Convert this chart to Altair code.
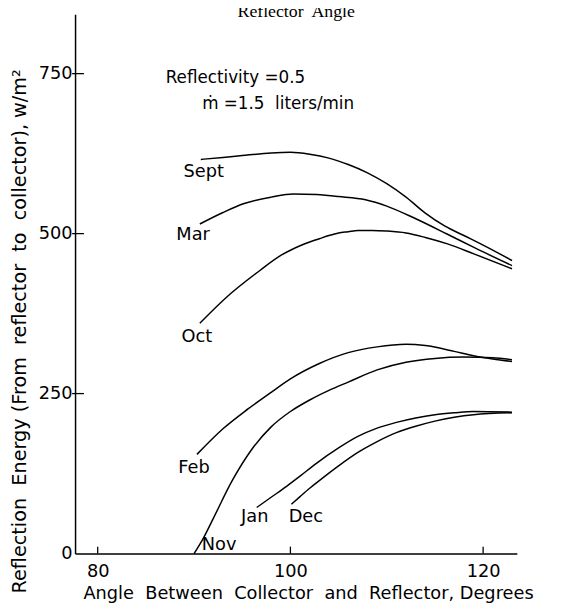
import altair as alt
import pandas as pd

# ---------------- data ----------------
months = ["Sept", "Mar", "Oct", "Feb", "Nov", "Jan", "Dec"]

sept_x = [90.7, 93, 95, 98, 100, 102, 104, 106, 108, 110, 112, 114, 116, 118, 120, 123.0]
sept_y = [616, 619, 622, 626, 627, 624, 618, 608, 595, 578, 557, 532, 512, 497, 482, 458]

mar_x = [90.6, 93, 95.2, 98, 100.3, 102.7, 105, 107.8, 110, 112.9, 116.3, 119.1, 123.0]
mar_y = [515, 533, 547, 557, 562, 561, 558, 553, 543, 524, 499, 478, 450]

oct_x = [90.6, 93.4, 96.8, 99, 100, 101, 102, 103, 104, 105, 106, 107, 108.5, 110, 112, 114, 116.3, 119.1, 123.0]
oct_y = [360, 401, 442, 466, 474, 481, 487, 492, 497, 501, 503, 505, 505, 504, 501, 494, 484, 468, 445]

feb_x = [90.3, 93, 95.6, 98, 100, 103, 106, 109, 112, 114, 117, 119, 121, 123.0]
feb_y = [155, 195, 226, 252, 273, 297, 314, 323, 327, 325, 316, 309, 304, 300]

nov_x = [90, 91, 92, 94, 96, 98, 100, 102, 104, 106, 109, 112, 115, 118, 121, 123.0]
nov_y = [0, 25, 55, 115, 163, 198, 222, 240, 255, 268, 287, 299, 305, 307, 306, 303]

jan_x = [96.5, 98, 99.6, 101, 102.7, 105, 107, 109, 111, 113, 115, 117, 119, 123.0]
jan_y = [72, 88, 105, 121, 141, 165, 183, 196, 205, 212, 217, 220, 222, 221]

dec_x = [100.1, 101, 102, 103, 105, 107, 109, 111, 113, 115, 117, 119, 123.0]
dec_y = [77, 89, 102, 114, 137, 158, 175, 189, 199, 207, 213, 217, 220]

# curve labels (anchor positions in data units)
label_x = [91.0, 89.9, 90.3, 90.0, 92.6, 96.3, 101.6]
label_y = [596, 498, 339, 134, 14, 57, 57]

# annotation texts
note_text = ["Reflectivity =0.5", "\u1e41 =1.5  liters/min".replace("  ", "\u00a0 ")]
note_x = [87.06, 90.84]
note_y = [743, 703]

title_text = "Reflector  Angle".replace("  ", "\u00a0 ")
title_x = 100.6
title_y = 838

x_title = "Angle  Between  Collector  and  Reflector, Degrees".replace("  ", "\u00a0 ")
y_title = "Reflection  Energy (From  reflector  to  collector), w/m\u00b2".replace("  ", "\u00a0 ")

x_ticks = [80, 100, 120]
y_ticks = [0, 250, 500, 750]
y_tick_marks = [250, 500, 750]

# ---------------- build tables ----------------
series = {
    "Sept": (sept_x, sept_y), "Mar": (mar_x, mar_y), "Oct": (oct_x, oct_y),
    "Feb": (feb_x, feb_y), "Nov": (nov_x, nov_y), "Jan": (jan_x, jan_y),
    "Dec": (dec_x, dec_y),
}
rows = []
for m, (xs, ys) in series.items():
    for i, (a, e) in enumerate(zip(xs, ys)):
        rows.append({"month": m, "angle": a, "energy": e, "idx": i})
df = pd.DataFrame(rows)

labels = pd.DataFrame({"month": months, "angle": label_x, "energy": label_y})
notes = pd.DataFrame({"text": note_text, "angle": note_x, "energy": note_y})
title_df = pd.DataFrame({"text": [title_text], "angle": [title_x], "energy": [title_y]})
xt = pd.DataFrame({"angle": x_ticks})
yt = pd.DataFrame({"energy": y_tick_marks})

FONT = "DejaVu Sans"

xscale = alt.Scale(domain=[77.65, 123.5], nice=False, zero=False)
yscale = alt.Scale(domain=[0, 843], nice=False, zero=True)

xaxis = alt.Axis(
    values=x_ticks, ticks=False, tickSize=0, grid=False,
    labelFontSize=18, labelFont=FONT, labelColor="black", labelPadding=9,
    domainColor="black", domainWidth=1.5,
    title=x_title,
    titleFont=FONT, titleFontSize=18, titleFontWeight="normal", titleColor="black",
    titleAnchor="start", titleAlign="left", titleBaseline="alphabetic",
    titleX=8, titleY=46,
)
yaxis = alt.Axis(
    values=y_ticks, ticks=False, tickSize=0, grid=False,
    labelFontSize=18, labelFont=FONT, labelColor="black", labelPadding=3,
    domainColor="black", domainWidth=1.5,
    title=y_title,
    titleFont=FONT, titleFontSize=19.5, titleFontWeight="normal", titleColor="black",
    titleAngle=270, titleAnchor="start", titleAlign="left", titleBaseline="middle",
    titleX=-56, titleY=587,
)

X = alt.X("angle:Q", scale=xscale, axis=xaxis)
Y = alt.Y("energy:Q", scale=yscale, axis=yaxis)

lines = alt.Chart(df).mark_line(
    color="black", strokeWidth=1.5, interpolate="monotone"
).encode(x=X, y=Y, detail="month:N", order="idx:Q")

month_text = alt.Chart(labels).mark_text(
    fontSize=18, font=FONT, color="black", align="center", baseline="middle"
).encode(x=X, y=Y, text="month:N")

note_marks = alt.Chart(notes).mark_text(
    fontSize=17, font=FONT, color="black", align="left", baseline="middle"
).encode(x=X, y=Y, text="text:N")

title_mark = alt.Chart(title_df).mark_text(
    fontSize=18, font="Liberation Serif, DejaVu Serif", color="black",
    align="center", baseline="alphabetic"
).encode(x=X, y=Y, text="text:N")

xtick_marks = alt.Chart(xt).mark_rule(color="black", strokeWidth=1.3).encode(
    x=X, y=alt.value(547), y2=alt.value(540)
)
ytick_marks = alt.Chart(yt).mark_rule(color="black", strokeWidth=1.3).encode(
    y=Y, x=alt.value(-3), x2=alt.value(9)
)

chart = alt.layer(
    lines, month_text, note_marks, title_mark, xtick_marks, ytick_marks
).properties(
    width=448, height=547,
    autosize=alt.AutoSizeParams(type="none"),
    padding={"left": 68, "top": 2, "right": 61, "bottom": 52},
    background="white",
).configure_view(stroke=None)

chart.save("out.html", embed_options={"renderer": "svg", "actions": False})
